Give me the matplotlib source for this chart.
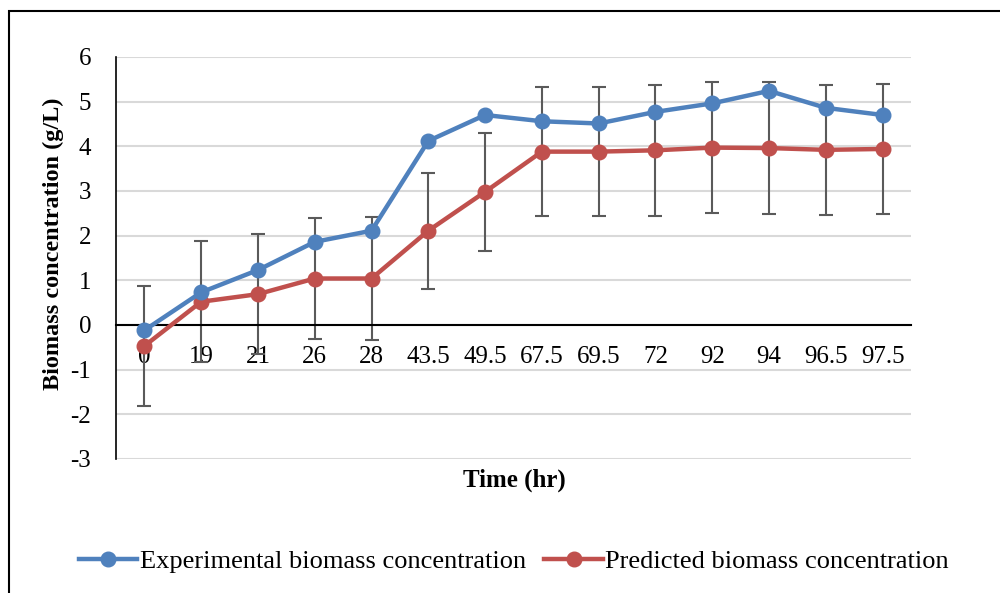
import matplotlib.pyplot as plt
from matplotlib.patches import Rectangle
import numpy as np

plt.rcParams['font.family'] = ['Liberation Serif', 'DejaVu Serif']
plt.rcParams['axes.unicode_minus'] = False

# sampling times (category labels)
times = ["0", "19", "21", "26", "28", "43.5", "49.5", "67.5", "69.5", "72", "92", "94", "96.5", "97.5"]

experimental = [-0.12, 0.73, 1.23, 1.86, 2.11, 4.12, 4.70, 4.56, 4.51, 4.77, 4.96, 5.24, 4.86, 4.70]
predicted = [-0.47, 0.52, 0.69, 1.04, 1.04, 2.11, 2.98, 3.88, 3.88, 3.91, 3.97, 3.96, 3.92, 3.94]
# error bars sit on the predicted series
pred_err = [1.34, 1.36, 1.35, 1.35, 1.37, 1.30, 1.32, 1.45, 1.45, 1.46, 1.46, 1.47, 1.46, 1.46]

blue = "#4F81BD"
red = "#C0504D"

fig = plt.figure(figsize=(10, 5.93), dpi=100)
ax = fig.add_axes([0.116, 0.226, 0.795, 0.678])

x = np.arange(len(times))

ax.errorbar(x, predicted, yerr=pred_err, fmt='none', ecolor="#5a5a5a",
            elinewidth=1.5, capsize=5, capthick=1.5, zorder=2)
ax.plot(x, experimental, color=blue, lw=3.2, marker='o', ms=10.5,
        label="Experimental biomass concentration", zorder=4)
ax.plot(x, predicted, color=red, lw=3.2, marker='o', ms=10.5,
        label="Predicted biomass concentration", zorder=3)

ax.set_xlim(-0.5, len(times) - 0.5)
ax.set_ylim(-3, 6)
ax.set_yticks(range(-3, 7))
ax.set_xticks(x)
ax.set_xticklabels(times)

ax.grid(axis='y', color="#d9d9d9", lw=1.5)
ax.set_axisbelow(True)

ax.spines['top'].set_visible(False)
ax.spines['right'].set_visible(False)
ax.spines['bottom'].set_position(('data', 0))
ax.spines['bottom'].set_linewidth(1.5)
ax.spines['left'].set_linewidth(1.2)
ax.tick_params(axis='x', length=0, pad=15, labelsize=18)
ax.tick_params(axis='y', length=0, pad=18, labelsize=18)

ax.set_ylabel("Biomass concentration (g/L)", fontsize=17.5, fontweight='bold')
ax.yaxis.set_label_coords(-0.066, 0.535)
fig.text(0.514, 1 - 480 / 593, "Time (hr)", fontsize=18, fontweight='bold',
         ha='center', va='center')

fig.legend(loc='center', bbox_to_anchor=(0.514, 1 - 561 / 593), ncol=2, frameon=False,
           fontsize=19, handlelength=2.2, handletextpad=0.1, columnspacing=0.7)

# chart frame (cut off at right and bottom like the source)
fig.add_artist(Rectangle((0.009, -0.1), 1.2, 1.1 - 11.5 / 593, transform=fig.transFigure,
                         fill=False, edgecolor='black', lw=1.5))

fig.savefig("out.png", dpi=100)
